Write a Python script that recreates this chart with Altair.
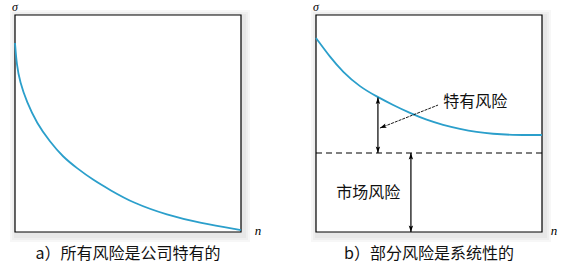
import altair as alt
import pandas as pd
import math

# ---------------- data ----------------
left_n = [0, 0.075, 0.22, 0.52, 0.96, 1.55, 2.12, 2.73, 3.45, 4.2, 5.22, 6.73, 8.19, 10]
left_s = [8.71, 7.70, 6.91, 5.99, 5.02, 4.15, 3.46, 2.95, 2.40, 1.94, 1.34, 0.78, 0.41, 0.09]

right_n = [0, 0.62, 1.19, 1.95, 2.69, 3.41, 4.16, 4.90, 5.62, 6.37, 7.11, 7.83, 8.58, 10]
right_s = [8.94, 8.06, 7.37, 6.68, 6.24, 5.85, 5.48, 5.16, 4.93, 4.75, 4.61, 4.52, 4.47, 4.47]

market_level = 3.64
# vertical double arrows: n, bottom sigma, top sigma
varrow_n = [2.74, 4.20]
varrow_lo = [market_level, 0.0]
varrow_hi = [6.2, market_level]
# pointer arrow (tail -> head)
pointer_n = [5.40, 2.83]
pointer_s = [5.85, 4.79]

label_text = ["特有风险", "市场风险"]
label_n = [5.63, 0.90]
label_s = [6.0, 1.78]

captions = ["a）所有风险是公司特有的", "b）部分风险是系统性的"]
axis_y_label = "σ"
axis_x_label = "n"

# ---------------- styling ----------------
W, H = 226, 217
CURVE = "#2b9fcb"
CJK = "Noto Sans CJK SC"
SERIF = "Liberation Serif"
ARROW = "M0,0L0.8,2.4L0,1.9L-0.8,2.4Z"

xs = alt.Scale(domain=[0, 10], nice=False, zero=False)
ys = alt.Scale(domain=[0, 10], nice=False, zero=False)


def X(f="n", **kw):
    return alt.X(f"{f}:Q", scale=xs, axis=None, **kw)


def Y(f="s", **kw):
    return alt.Y(f"{f}:Q", scale=ys, axis=None, **kw)


box_df = pd.DataFrame({"x0": [0], "x1": [10], "y0": [0], "y1": [10]})


def frame():
    layers = []
    for spread in [7, 5, 3]:
        layers.append(
            alt.Chart(box_df).mark_rect(
                fill="#000", opacity=0.03,
                xOffset=-spread + 2, x2Offset=spread + 2,
                yOffset=spread + 3, y2Offset=-spread + 2,
            ).encode(x=X("x0"), x2="x1", y=Y("y0"), y2="y1")
        )
    layers.append(
        alt.Chart(box_df).mark_rect(fill="white", stroke="black", strokeWidth=1.2)
        .encode(x=X("x0"), x2="x1", y=Y("y0"), y2="y1")
    )
    return layers


def axis_labels(n_dx):
    df_s = pd.DataFrame({"n": [0], "s": [10], "t": [axis_y_label]})
    df_n = pd.DataFrame({"n": [10], "s": [0], "t": [axis_x_label]})
    a = alt.Chart(df_s).mark_text(font=SERIF, fontStyle="italic", fontSize=12,
                                  dy=-8, baseline="middle").encode(x=X(), y=Y(), text="t:N")
    b = alt.Chart(df_n).mark_text(font=SERIF, fontStyle="italic", fontSize=13,
                                  dx=n_dx, dy=-1, baseline="middle").encode(x=X(), y=Y(), text="t:N")
    return [a, b]


def caption(i):
    df = pd.DataFrame({"n": [5], "s": [0], "t": [captions[i]]})
    return alt.Chart(df).mark_text(font=CJK, fontSize=16, dy=22, baseline="middle",
                                   color="#111").encode(x=X(), y=Y(), text="t:N")


# ---------- left panel ----------
left_df = pd.DataFrame({"n": left_n, "s": left_s})
left_curve = alt.Chart(left_df).mark_line(color=CURVE, strokeWidth=1.8,
                                          interpolate="basis").encode(x=X(), y=Y())
left = alt.layer(*frame(), left_curve, *axis_labels(17), caption(0)).properties(width=W, height=H)

# ---------- right panel ----------
right_df = pd.DataFrame({"n": right_n, "s": right_s})
right_curve = alt.Chart(right_df).mark_line(color=CURVE, strokeWidth=1.8,
                                            interpolate="basis").encode(x=X(), y=Y())

dash_df = pd.DataFrame({"n": [0, 10], "s": [market_level, market_level]})
dash = alt.Chart(dash_df).mark_line(color="black", strokeWidth=1.1,
                                    strokeDash=[6, 4]).encode(x=X(), y=Y())

va_df = pd.DataFrame({"n": varrow_n, "lo": varrow_lo, "hi": varrow_hi})
va_lines = alt.Chart(va_df).mark_rule(color="black", strokeWidth=1.2).encode(
    x=X(), y=Y("lo"), y2="hi")

heads = []
for n, lo, hi in zip(varrow_n, varrow_lo, varrow_hi):
    heads.append({"n": n, "s": hi, "a": 0})
    heads.append({"n": n, "s": lo, "a": 180})
# pointer head angle (screen space, clockwise from up)
px_per_n = W / 10
px_per_s = H / 10
dxp = (pointer_n[1] - pointer_n[0]) * px_per_n
dyp = -(pointer_s[1] - pointer_s[0]) * px_per_s
ang = math.degrees(math.atan2(dxp, -dyp)) % 360
heads.append({"n": pointer_n[1], "s": pointer_s[1], "a": ang})
heads_df = pd.DataFrame(heads)
head_marks = alt.Chart(heads_df).mark_point(shape=ARROW, filled=True, color="black",
                                            size=30, opacity=1).encode(
    x=X(), y=Y(), angle=alt.Angle("a:Q", scale=None))

ptr_df = pd.DataFrame({"n": pointer_n, "s": pointer_s})
ptr = alt.Chart(ptr_df).mark_line(color="black", strokeWidth=0.9,
                                  strokeDash=[3, 1]).encode(x=X(), y=Y())

lab_df = pd.DataFrame({"n": label_n, "s": label_s, "t": label_text})
labels = alt.Chart(lab_df).mark_text(font=CJK, fontSize=16, align="left", baseline="middle",
                                     color="#111").encode(x=X(), y=Y(), text="t:N")

right = alt.layer(*frame(), right_curve, dash, va_lines, ptr, head_marks, labels,
                  *axis_labels(12), caption(1)).properties(width=W, height=H)

chart = alt.hconcat(left, right, spacing=75, bounds="flush").properties(
    padding={"left": 10, "top": 1, "right": 0, "bottom": 2}
).configure_view(stroke=None, fill=None)

chart.save("out.html", embed_options={"renderer": "svg", "actions": False})
